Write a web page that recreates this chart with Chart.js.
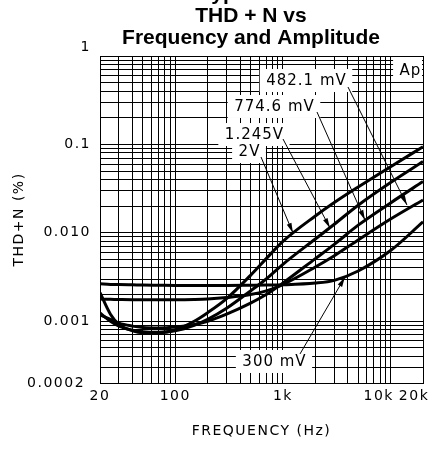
<!DOCTYPE html>
<html><head><meta charset="utf-8">
<script src="https://cdn.jsdelivr.net/npm/chart.js@4.4.1/dist/chart.umd.min.js"></script>
<style>html,body{margin:0;padding:0;background:#fff;}</style>
</head><body>
<canvas id="c" width="440" height="457"></canvas>
<script>
// ---- data ----
const frequencies = [20, 25, 30, 40, 50, 70, 100, 150, 200, 300, 500, 700, 1000, 2000, 3000, 5000, 10000, 20000];
const thd2V     = [0.0021, 0.0012, 0.00092, 0.00078, 0.00074, 0.00074, 0.0008, 0.001, 0.00125, 0.0018, 0.0033, 0.0051, 0.0080, 0.0155, 0.022, 0.033, 0.056, 0.094];
const thd1245mV = [0.00124, 0.001, 0.00088, 0.00079, 0.00076, 0.00075, 0.00078, 0.0009, 0.00105, 0.0014, 0.0022, 0.003, 0.0044, 0.0085, 0.0125, 0.0205, 0.037, 0.064];
const thd7746mV = [0.00118, 0.00105, 0.00095, 0.00088, 0.00085, 0.00084, 0.00086, 0.00092, 0.001, 0.0012, 0.0016, 0.002, 0.0027, 0.0051, 0.0074, 0.0122, 0.0218, 0.038];
const thd4821mV = [0.00178, 0.00177, 0.00176, 0.00175, 0.00175, 0.00175, 0.00175, 0.00176, 0.00178, 0.00185, 0.002, 0.0022, 0.0026, 0.0041, 0.0055, 0.0083, 0.0143, 0.0235];
const thd300mV  = [0.00265, 0.0026, 0.0026, 0.00258, 0.00256, 0.00255, 0.00254, 0.00254, 0.00254, 0.00254, 0.00255, 0.00256, 0.00258, 0.0027, 0.0029, 0.0037, 0.0063, 0.0133];
const seriesNames = ['2V', '1.245V', '774.6 mV', '482.1 mV', '300 mV'];

const xTickValues = [20,30,40,50,60,70,80,90,100,200,300,400,500,600,700,800,900,1000,2000,3000,4000,5000,6000,7000,8000,9000,10000,20000];
const xTickLabels = {20:'20', 100:'100', 1000:'1k', 10000:'10k    ', 20000:'20k   '};
const yTickValues = [0.0002,0.0003,0.0004,0.0005,0.0006,0.0007,0.0008,0.0009,0.001,0.002,0.003,0.004,0.005,0.006,0.007,0.008,0.009,0.01,0.02,0.03,0.04,0.05,0.06,0.07,0.08,0.09,0.1,0.2,0.3,0.4,0.5,0.6,0.7,0.8,0.9,1];
const yTickLabels = {0.0002:'0.0002 ', 0.001:'0.001', 0.01:'0.010', 0.1:'0.1', 1:['1','']};

// label callouts: text, label anchor (freq, thd), arrow start, arrow end (data space)
const callouts = [
  {text:'Ap',       at:[15140, 0.70]},
  {text:'482.1 mV', at:[1638, 0.535], from:[4020, 0.446], to:[14200, 0.0206]},
  {text:'774.6 mV', at:[826, 0.272],  from:[2072, 0.2325], to:[5780, 0.01395]},
  {text:'1.245V',   at:[538, 0.131],  from:[1002, 0.115], to:[2736, 0.01133]},
  {text:'2V',       at:[484, 0.0842], from:[626, 0.072],  to:[1240, 0.00995]},
  {text:'300 mV',   at:[826, 0.000355], from:[1440, 0.000426], to:[3770, 0.00316]}
];
const cutTitle = 'Typical Characteristics';
const titleLines = ['THD + N vs', 'Frequency and Amplitude'];

const allSeries = [thd2V, thd1245mV, thd7746mV, thd4821mV, thd300mV];
const datasets = allSeries.map((vals, i) => ({
  label: seriesNames[i],
  data: frequencies.map((f, j) => ({x: f, y: vals[j]})),
  borderColor: '#000',
  borderWidth: 3,
  pointRadius: 0,
  fill: false,
  cubicInterpolationMode: 'monotone'
}));

const calloutPlugin = {
  id: 'callouts',
  beforeDraw(chart) { chart.ctx.letterSpacing = '1.5px'; },
  afterDatasetsDraw(chart) {
    const ctx = chart.ctx, xs = chart.scales.x, ys = chart.scales.y, area = chart.chartArea;
    ctx.save();
    ctx.font = '15px "DejaVu Sans"';
    ctx.letterSpacing = '1px';
    ctx.textAlign = 'center';
    ctx.textBaseline = 'middle';
    callouts.forEach(c => {
      const cx = xs.getPixelForValue(c.at[0]), cy = ys.getPixelForValue(c.at[1]);
      const w = ctx.measureText(c.text).width;
      let bx = cx - w/2 - 6, bw = w + 12;
      if (bx + bw > area.right - 1) bw = area.right - 1 - bx;
      ctx.fillStyle = '#fff';
      ctx.fillRect(bx, cy - 11, bw, 23);
      ctx.fillStyle = '#000';
      ctx.fillText(c.text, cx + 0.5, cy + 1);
      if (c.from) {
        const x1 = xs.getPixelForValue(c.from[0]), y1 = ys.getPixelForValue(c.from[1]);
        const x2 = xs.getPixelForValue(c.to[0]), y2 = ys.getPixelForValue(c.to[1]);
        const a = Math.atan2(y2 - y1, x2 - x1);
        ctx.strokeStyle = '#000';
        ctx.lineWidth = 1;
        ctx.beginPath(); ctx.moveTo(x1, y1); ctx.lineTo(x2, y2); ctx.stroke();
        ctx.beginPath();
        ctx.moveTo(x2, y2);
        ctx.lineTo(x2 - 10*Math.cos(a) + 2.5*Math.sin(a), y2 - 10*Math.sin(a) - 2.5*Math.cos(a));
        ctx.lineTo(x2 - 10*Math.cos(a) - 2.5*Math.sin(a), y2 - 10*Math.sin(a) + 2.5*Math.cos(a));
        ctx.closePath(); ctx.fill();
      }
    });
    ctx.restore();
  },
  afterDraw(chart) {
    const ctx = chart.ctx;
    ctx.save();
    ctx.letterSpacing = '0px';
    ctx.font = 'bold 21px "Liberation Sans"';
    ctx.fillStyle = '#000';
    ctx.textBaseline = 'middle';
    ctx.textAlign = 'left';
    ctx.fillText(cutTitle, 200, -5.5);
    ctx.textAlign = 'center';
    titleLines.forEach((t, i) => ctx.fillText(t, 251, 16.5 + 22*i));
    ctx.restore();
  }
};

new Chart(document.getElementById('c'), {
  type: 'line',
  data: {datasets},
  plugins: [calloutPlugin],
  options: {
    responsive: false,
    animation: false,
    devicePixelRatio: 1,
    layout: {padding: {top: 56, right: 17, bottom: 0, left: 0}},
    plugins: {legend: {display: false}, tooltip: {enabled: false}, title: {display: false}},
    scales: {
      x: {
        type: 'logarithmic', min: 20, max: 20000,
        afterBuildTicks: s => { s.ticks = xTickValues.map(v => ({value: v})); },
        afterFit: s => { s.height = 74; s.paddingLeft = 0; s.paddingRight = 0; },
        grid: {color: '#000', lineWidth: 1, drawTicks: false, tickLength: 0},
        border: {display: true, color: '#000', width: 1},
        ticks: {autoSkip: false, maxRotation: 0, minRotation: 0, padding: 5, color: '#000',
                font: {family: 'DejaVu Sans', size: 14},
                callback: v => xTickLabels[v] ?? ''},
        title: {display: true, text: 'FREQUENCY (Hz)', color: '#000',
                font: {family: 'DejaVu Sans', size: 14, lineHeight: 1}, padding: {top: 0, bottom: 19}}
      },
      y: {
        type: 'logarithmic', min: 0.0002, max: 1,
        afterBuildTicks: s => { s.ticks = yTickValues.map(v => ({value: v})); },
        afterFit: s => { s.width = 100; s.paddingTop = 0; s.paddingBottom = 0; },
        grid: {color: '#000', lineWidth: 1, drawTicks: false, tickLength: 0},
        border: {display: true, color: '#000', width: 1},
        ticks: {autoSkip: false, padding: 9, color: '#000',
                font: {family: 'DejaVu Sans', size: 14},
                callback: v => yTickLabels[v] ?? ''},
        title: {display: true, text: 'THD+N (%)', color: '#000',
                font: {family: 'DejaVu Sans', size: 14, lineHeight: 1}, padding: {top: 12, bottom: 0}}
      }
    }
  }
});
</script>
</body></html>
